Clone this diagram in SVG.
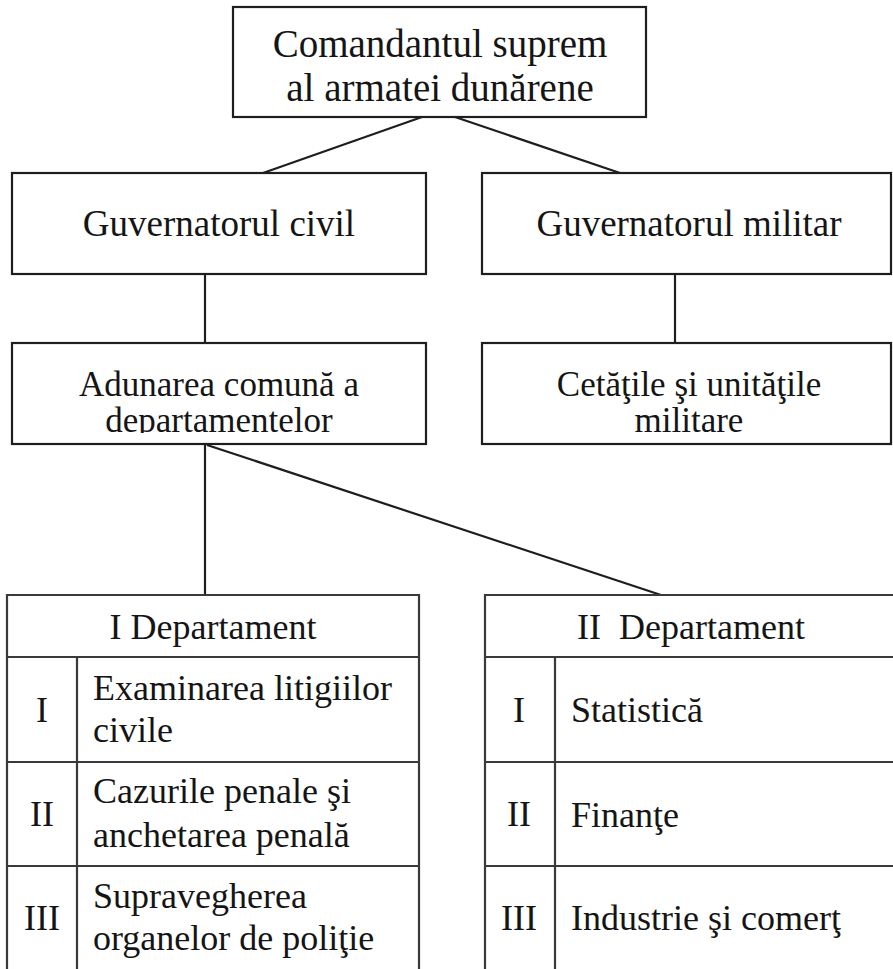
<svg xmlns="http://www.w3.org/2000/svg" width="893" height="969" viewBox="0 0 893 969">
<style>
.box{fill:#fff;stroke:#1e1e1e;stroke-width:2.2}
.tb{fill:none;stroke:#3a3a3a;stroke-width:2.2}
.con{stroke:#1e1e1e;stroke-width:2.2;fill:none}
.c{text-anchor:middle}
.f39{font-size:39px}
.f37{font-size:37px}
.f35{font-size:35px}
.f36{font-size:36px}
</style>
<defs>
<clipPath id="clipL"><rect x="0" y="340" width="893" height="93"/></clipPath>
</defs>
<rect width="893" height="969" fill="#fff"/>
<g id="connectors">
<line class="con" x1="422" y1="117" x2="263" y2="173"/>
<line class="con" x1="455" y1="117" x2="620" y2="173"/>
<line class="con" x1="205" y1="274" x2="205" y2="343"/>
<line class="con" x1="675" y1="274" x2="675" y2="343"/>
<line class="con" x1="205" y1="445" x2="205" y2="595"/>
<line class="con" x1="207" y1="445" x2="661" y2="595"/>
</g>
<g font-family="Liberation Serif, Tinos, Times, Noto Serif, DejaVu Serif, serif" fill="#151515">
<g id="n-comandant">
<rect class="box" x="233" y="7" width="413" height="110"/>
<text class="c f39" x="440" y="57">Comandantul suprem</text>
<text class="c f39" x="440" y="101">al armatei dunărene</text>
</g>
<g id="n-guv-civil">
<rect class="box" x="12" y="173" width="414" height="101"/>
<text class="c f37" x="219" y="236">Guvernatorul civil</text>
</g>
<g id="n-guv-militar">
<rect class="box" x="482" y="173" width="409" height="101"/>
<text class="c f37" x="689" y="236">Guvernatorul militar</text>
</g>
<g id="n-adunarea">
<rect class="box" x="12" y="343" width="414" height="101"/>
<g clip-path="url(#clipL)">
<text class="c f35" x="219" y="396">Adunarea comună a</text>
<text class="c f35" x="219" y="432">departamentelor</text>
</g>
</g>
<g id="n-cetatile">
<rect class="box" x="482" y="343" width="409" height="101"/>
<text class="c f35" x="689" y="396">Cetăţile şi unităţile</text>
<text class="c f35" x="689" y="432">militare</text>
</g>
<g id="n-dep1">
<path class="tb" d="M7,980 V595 H419 V980 M7,657 H419 M7,762 H419 M7,866 H419 M77,657 V980"/>
<text class="c f36" x="213" y="639">I Departament</text>
<text class="c f36" x="42" y="722">I</text>
<text class="f36" x="93" y="700">Examinarea litigiilor</text>
<text class="f36" x="93" y="742">civile</text>
<text class="c f36" x="42" y="826">II</text>
<text class="f36" x="93" y="803">Cazurile penale şi</text>
<text class="f36" x="93" y="847">anchetarea penală</text>
<text class="c f36" x="42" y="930">III</text>
<text class="f36" x="93" y="908">Supravegherea</text>
<text class="f36" x="93" y="950">organelor de poliţie</text>
</g>
<g id="n-dep2">
<path class="tb" d="M485,980 V595 H900 M485,657 H900 M485,762 H900 M485,866 H900 M555,657 V980"/>
<text class="c f36" x="691" y="639" xml:space="preserve">II  Departament</text>
<text class="c f36" x="519" y="722">I</text>
<text class="f36" x="571" y="722">Statistică</text>
<text class="c f36" x="519" y="826">II</text>
<text class="f36" x="571" y="827">Finanţe</text>
<text class="c f36" x="519" y="930">III</text>
<text class="f36" x="571" y="930">Industrie şi comerţ</text>
</g>
</g>
</svg>
